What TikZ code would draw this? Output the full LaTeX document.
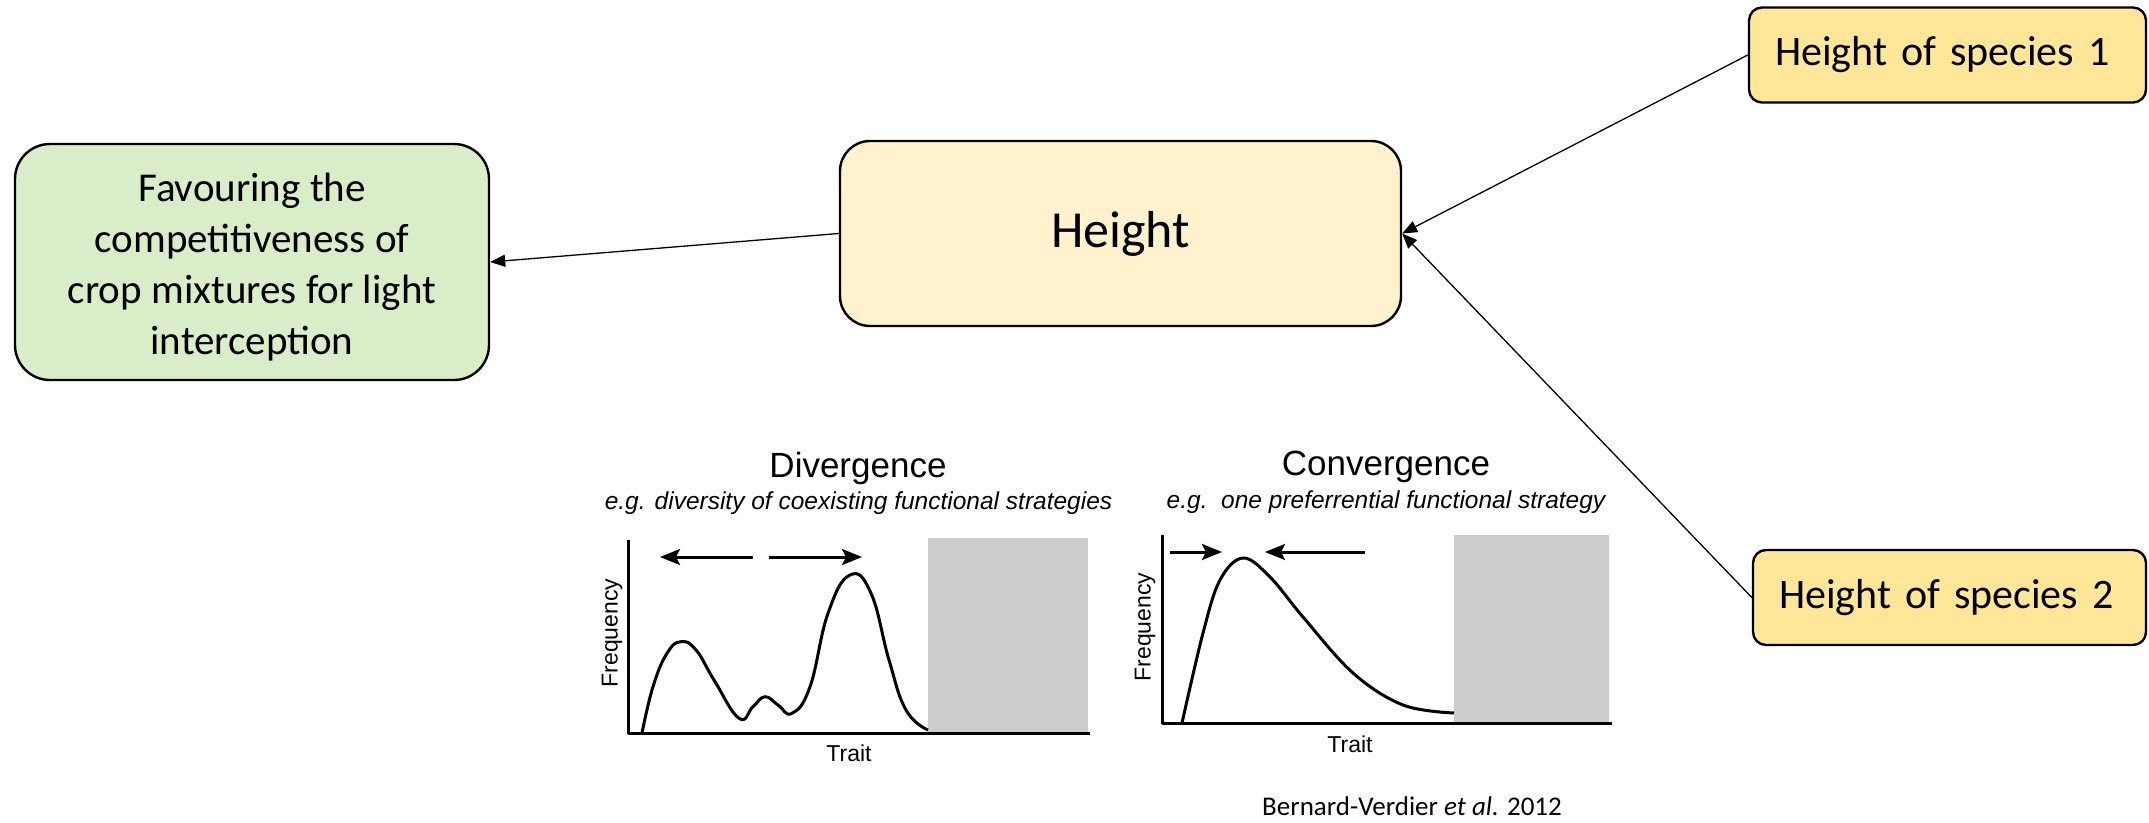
\documentclass[tikz,border=0pt]{standalone}
\usepackage{fontspec}
\setmainfont{Carlito}
\newfontfamily\arialf{Liberation Sans}
\usetikzlibrary{arrows.meta}
\definecolor{greenfill}{HTML}{DAEDC9}
\definecolor{heightfill}{HTML}{FFF2CC}
\definecolor{speciesfill}{HTML}{FFE699}
\definecolor{greyblock}{HTML}{CCCCCC}
\tikzset{
  boxbase/.style={draw=black, line width=2.4pt, align=center},
  greenbox/.style={boxbase, fill=greenfill, rounded corners=35pt, minimum width=474pt, minimum height=236pt,
    font=\fontsize{41}{51}\selectfont},
  heightbox/.style={boxbase, fill=heightfill, rounded corners=30pt, minimum width=561pt, minimum height=185pt,
    font=\fontsize{52}{62}\selectfont},
  speciesbox/.style={boxbase, fill=speciesfill, rounded corners=13pt, minimum height=95pt, align=left,
    inner xsep=26pt, font=\fontsize{42}{50}\selectfont},
  link/.style={line width=1.3pt, -{Triangle[length=15pt,width=12pt]}},
  chartline/.style={line width=3pt, line join=round},
  chartarrow/.style={line width=3pt, -{Stealth[length=20pt,width=16pt,inset=4pt]}},
  charttitle/.style={font=\arialf\fontsize{35}{40}\selectfont, inner sep=0pt},
  chartsub/.style={font=\arialf\itshape\fontsize{24.5}{28}\selectfont, inner sep=0pt},
  axislabel/.style={font=\arialf\fontsize{23}{26}\selectfont, inner sep=0pt},
}
\begin{document}
\begin{tikzpicture}[x=1pt,y=-1pt]
\useasboundingbox (0,0) rectangle (2149,822);

% main boxes
\node[greenbox] (green) at (252,262) {\rule{0pt}{39pt}Favouring the\\competitiveness of\\crop mixtures for light\\interception};
\node[heightbox] (height) at (1120.5,233.5) {Height};
\node[speciesbox, text width=345pt] (sp1) at (1947.5,55) {Height of species 1};
\node[speciesbox, text width=341pt] (sp2) at (1949.5,597.5) {Height of species 2};

% connectors
\draw[link] (height.west) -- (green.east);
\draw[link] (sp1.west) -- (height.east);
\draw[link] (sp2.west) -- (height.east);

% ---------- Divergence chart ----------
\fill[greyblock] (928,538) rectangle (1088,733);
\draw[chartline] (628,540) -- (628,733) -- (1090,733);
\draw[chartline] plot[smooth, tension=0.75] coordinates {
  (642,733) (653,686.7) (667,653.3) (681,641.7) (696,650) (714,680) (739,718.3)
  (753,706.7) (765,696.7) (778,705) (792,713.3) (810,686.7) (828,613.3) (850,575)
  (871,593.3) (889,660) (906,710) (928,730)};
\draw[chartarrow] (753,557) -- (660,557);
\draw[chartarrow] (769,557) -- (862,557);
\node[charttitle] (divtitle) at (858,468) {Divergence};
\node[chartsub] (divsub) at (858.5,503) {e.g. diversity of coexisting functional strategies};
\node[axislabel, rotate=90] (divfreq) at (612,633) {Frequency};
\node[axislabel] (divtrait) at (849,753) {Trait};

% ---------- Convergence chart ----------
\fill[greyblock] (1454,535) rectangle (1609,723);
\draw[chartline] (1162,535) -- (1162,723) -- (1612,723);
\draw[chartline] plot[smooth, tension=0.6] coordinates {
  (1182,723) (1203,633) (1220,580) (1243,558) (1270,577) (1303,617)
  (1353,673) (1403,705) (1454,713)};
\draw[chartarrow] (1170,552) -- (1222,552);
\draw[chartarrow] (1365,552) -- (1265,552);
\node[charttitle] (contitle) at (1386,467) {Convergence};
\node[chartsub] (consub) at (1386,502) {e.g.\ \ one preferrential functional strategy};
\node[axislabel, rotate=90] (confreq) at (1145,627) {Frequency};
\node[axislabel] (contrait) at (1350,744) {Trait};

% citation
\node[anchor=base west, inner sep=0pt, font=\fontsize{27}{32}\selectfont] (cite) at (1262,815)
  {Bernard-Verdier \textit{et al.} 2012};
\end{tikzpicture}
\end{document}
